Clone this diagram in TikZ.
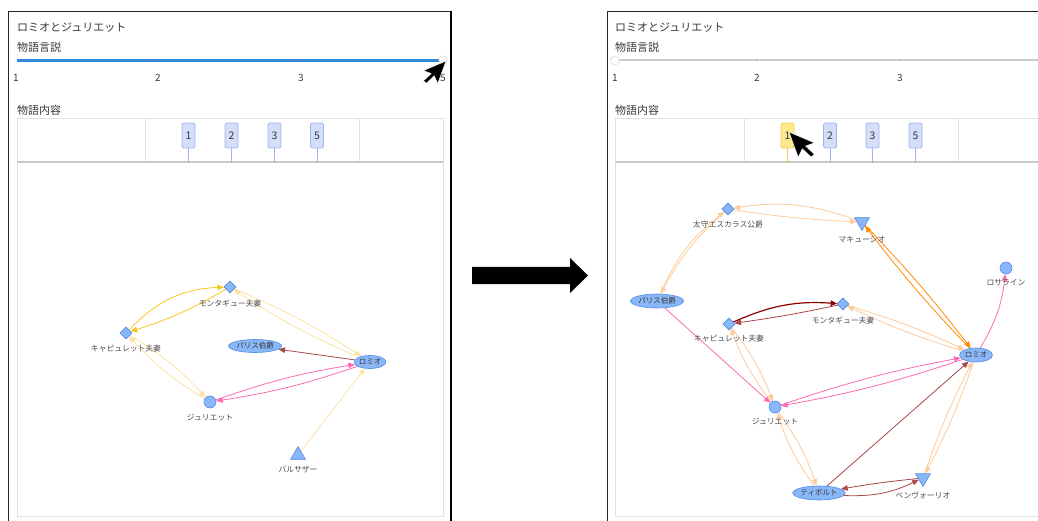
\documentclass[tikz,border=0pt]{standalone}
\usepackage{fontspec}
\setmainfont{Noto Sans CJK JP}
\usetikzlibrary{arrows.meta,shapes.geometric}

\pgfdeclarelayer{bg}
\pgfdeclarelayer{edges}
\pgfsetlayers{bg,edges,main}

\definecolor{txt}{RGB}{55,55,55}
\definecolor{lbltxt}{RGB}{75,75,75}
\definecolor{nodefill}{RGB}{138,183,248}
\definecolor{nodeline}{RGB}{80,140,232}
\definecolor{gridline}{RGB}{224,224,224}
\definecolor{gridbase}{RGB}{200,200,200}
\definecolor{tagfill}{RGB}{212,222,248}
\definecolor{tagline}{RGB}{160,182,240}
\definecolor{tagselfill}{RGB}{253,234,140}
\definecolor{tagselline}{RGB}{240,205,90}
\definecolor{sliderblue}{RGB}{45,138,218}
\definecolor{slidergray}{RGB}{205,205,205}
\definecolor{eyellow}{RGB}{246,200,30}
\definecolor{epaleyellow}{RGB}{253,228,165}
\definecolor{epaleorange}{RGB}{255,203,155}
\definecolor{eorange}{RGB}{255,140,0}
\definecolor{epink}{RGB}{255,105,180}
\definecolor{edarkred}{RGB}{139,0,0}
\definecolor{emidred}{RGB}{168,72,72}

\tikzset{
  title/.style={anchor=west, inner sep=0, text=txt, font=\fontsize{11}{13}\selectfont},
  ticklbl/.style={inner sep=0, text=txt, font=\fontsize{10}{12}\selectfont},
  tagbox/.style={draw=tagline, fill=tagfill, line width=0.8pt, rounded corners=1.5pt,
    minimum width=13pt, minimum height=25pt, inner sep=0, text=txt,
    font=\fontsize{10.5}{12}\selectfont},
  tagsel/.style={tagbox, draw=tagselline, fill=tagselfill},
  stem/.style={draw=tagline, line width=0.8pt},
  stemsel/.style={draw=tagselline, line width=0.8pt},
  shp/.style={draw=nodeline, fill=nodefill, line width=0.6pt, inner sep=0},
  dia/.style={shp, diamond, minimum size=12pt},
  dot/.style={shp, circle, minimum size=12pt},
  triup/.style={shp, regular polygon, regular polygon sides=3, minimum size=17pt},
  tridown/.style={triup, shape border rotate=180},
  ell/.style={shp, ellipse, text=txt, font=\fontsize{7.5}{9}\selectfont},
  lbl/.style={inner sep=0, text=lbltxt, font=\fontsize{7.8}{9}\selectfont},
  lk/.style={line width=0.8pt, -{Triangle[length=6.5pt,width=5.5pt]}},
  frame/.style={draw=gridline, line width=0.8pt},
  pointer/.style={fill=black, draw=white, line width=0.5pt, line join=round}
}

\begin{document}
\begin{tikzpicture}[x=1pt,y=-1pt]
\useasboundingbox (0,0) rectangle (1038,521);
\begin{pgfonlayer}{bg}
\fill[white] (0,0) rectangle (1038,521);
\end{pgfonlayer}

% ---------------- left panel ----------------
\draw[black!85, line width=1pt] (8.5,521) -- (8.5,12) -- (451,12);
\draw[black, line width=2pt] (451,11) -- (451,521);

\node[title] (lt1) at (17,28) {ロミオとジュリエット};
\node[title] (lt2) at (17,47) {物語言説};

% slider
\draw[sliderblue, line width=2.2pt] (17,60.5) -- (441,60.5);
\fill[black!45] (158,60.5) circle (0.9) (301,60.5) circle (0.9);
\node[circle, draw=black!20, fill=white, minimum size=8.5pt, inner sep=0] (lknob) at (443,60) {};
\node[ticklbl] (ls1) at (16,78) {1};
\node[ticklbl] (ls2) at (158,78) {2};
\node[ticklbl] (ls3) at (301,78) {3};
\node[ticklbl] (ls5) at (443,78) {5};

\node[title] (lt3) at (17,110) {物語内容};

% timeline strip
\draw[frame] (17,162) -- (17,118) -- (443,118) -- (443,162);
\draw[frame] (145,118) -- (145,162) (359,118) -- (359,162);
\draw[gridbase, line width=1.2pt] (17,162) -- (443,162);
\draw[frame] (17,162) -- (17,516) -- (443,516) -- (443,162);

\foreach \n/\x in {1/188.5,2/231.5,3/274.5,5/317} {
  \node[tagbox] (ltag\n) at (\x,135.5) {\n};
  \coordinate (lbase\n) at (\x,162);
  \draw[stem] (ltag\n) -- (lbase\n);
  \fill[tagline] (lbase\n) circle (1);
}

% pointer on the slider end
\begin{scope}[shift={(446,61)}, rotate=-20, scale=1.2]
  \draw[pointer] (0,0) -- (0,20) -- (-5,15) -- (-9,23) -- (-12,22) -- (-8,14) -- (-15,14) -- cycle;
\end{scope}

% left graph
\node[dia] (LMon) at (230,287) {};
\node[lbl] (LMonL) at (230,303) {モンタギュー夫妻};
\node[dia] (LCap) at (126,333) {};
\node[lbl] (LCapL) at (126,349) {キャピュレット夫妻};
\node[ell, minimum width=44pt, minimum height=13pt] (LPar) at (255,346) {パリス伯爵};
\node[ell, minimum width=31pt, minimum height=13pt] (LRom) at (370,362) {ロミオ};
\node[dot] (LJul) at (210,402) {};
\node[lbl] (LJulL) at (210,418) {ジュリエット};
\node[triup] (LBal) at (298,455) {};
\node[lbl] (LBalL) at (298,470) {バルサザー};

\begin{pgfonlayer}{edges}
\draw[lk, eyellow] (LCap) to[bend left=22] (LMon);
\draw[lk, eyellow] (LMon) to[bend left=6] (LCap);
\draw[lk, epaleyellow] (LMon) to[bend left=5] (LRom);
\draw[lk, epaleyellow] (LRom) to[bend left=5] (LMon);
\draw[lk, epaleyellow] (LCap) to[bend left=8] (LJul);
\draw[lk, epaleyellow] (LJul) to[bend left=8] (LCap);
\draw[lk, emidred] (LRom) -- (LPar);
\draw[lk, epink] (LRom) to[bend left=5] (LJul);
\draw[lk, epink] (LJul) to[bend left=5] (LRom);
\draw[lk, epaleyellow] (LBal) -- (LRom);
\end{pgfonlayer}

% ---------------- transition arrow ----------------
\fill[black] (472,267) -- (570,267) -- (570,258) -- (588,275.5) -- (570,293) -- (570,284) -- (472,284) -- cycle;

% ---------------- right panel ----------------
\draw[black!85, line width=1pt] (607.5,521) -- (607.5,12) -- (1040,12);

\node[title] (rt1) at (615,28) {ロミオとジュリエット};
\node[title] (rt2) at (615,47) {物語言説};

\draw[slidergray, line width=2pt] (615,60.5) -- (1040,60.5);
\fill[black!35] (757,60.5) circle (0.9) (900,60.5) circle (0.9);
\node[circle, draw=black!20, fill=white, minimum size=9pt, inner sep=0] (rknob) at (615,60.5) {};
\node[ticklbl] (rs1) at (615,78) {1};
\node[ticklbl] (rs2) at (757,78) {2};
\node[ticklbl] (rs3) at (900,78) {3};

\node[title] (rt3) at (615,110) {物語内容};

\draw[frame] (615,162) -- (615,118) -- (1040,118);
\draw[frame] (744,118) -- (744,162) (958,118) -- (958,162);
\draw[gridbase, line width=1.2pt] (615,162) -- (1040,162);
\draw[frame] (615,162) -- (615,516) -- (1040,516);

\node[tagsel] (rtag1) at (787.5,135.5) {1};
\coordinate (rbase1) at (787.5,162);
\draw[stemsel] (rtag1) -- (rbase1);
\fill[tagselline] (rbase1) circle (1);
\foreach \n/\x in {2/830,3/872.5,5/915.5} {
  \node[tagbox] (rtag\n) at (\x,135.5) {\n};
  \coordinate (rbase\n) at (\x,162);
  \draw[stem] (rtag\n) -- (rbase\n);
  \fill[tagline] (rbase\n) circle (1);
}

% pointer on the selected tag
\begin{scope}[shift={(789,132)}, rotate=20, scale=1.35]
  \draw[pointer] (0,0) -- (0,20) -- (5,15) -- (9,23) -- (12,22) -- (8,14) -- (15,14) -- cycle;
\end{scope}

% right graph
\node[dia] (REsc) at (728,209) {};
\node[lbl] (REscL) at (728,225) {太守エスカラス公爵};
\node[tridown] (RMer) at (862,222) {};
\node[lbl] (RMerL) at (862,240) {マキューシオ};
\node[ell, minimum width=48pt, minimum height=14pt] (RPar) at (657,301) {パリス伯爵};
\node[dia] (RMon) at (843,304) {};
\node[lbl] (RMonL) at (843,320) {モンタギュー夫妻};
\node[dia] (RCap) at (729,324) {};
\node[lbl] (RCapL) at (729,339) {キャピュレット夫妻};
\node[dot] (RRos) at (1006,268) {};
\node[lbl] (RRosL) at (1006,283) {ロサライン};
\node[ell, minimum width=33pt, minimum height=14pt] (RRom) at (976,355) {ロミオ};
\node[dot] (RJul) at (775,407) {};
\node[lbl] (RJulL) at (775,422) {ジュリエット};
\node[ell, minimum width=48pt, minimum height=14pt] (RTyb) at (819,493) {ティボルト};
\node[tridown] (RBen) at (923,478) {};
\node[lbl] (RBenL) at (923,495) {ベンヴォーリオ};

\begin{pgfonlayer}{edges}
\draw[lk, epaleorange] (RMer) to[bend right=14] (REsc);
\draw[lk, epaleorange] (REsc) to[bend right=3] (RMer);
\draw[lk, epaleorange] (RPar) to[bend left=14] (REsc);
\draw[lk, epaleorange] (REsc) to[bend right=10] (RPar);
\draw[lk, eorange] (RMer) to[bend left=3] (RRom);
\draw[lk, eorange] (RRom) to[bend left=3] (RMer);
\draw[lk, edarkred, line width=1.2pt] (RCap) to[bend left=14] (RMon);
\draw[lk, emidred] (RMon) to[bend left=2] (RCap);
\draw[lk, epaleorange] (RMon) to[bend left=4] (RRom);
\draw[lk, epaleorange] (RRom) to[bend left=4] (RMon);
\draw[lk, epink] (RRom) to[bend right=12] (RRos);
\draw[lk, epink] (RPar) -- (RJul);
\draw[lk, epaleorange] (RCap) to[bend left=8] (RJul);
\draw[lk, epaleorange] (RJul) to[bend left=8] (RCap);
\draw[lk, epink] (RRom) to[bend left=4] (RJul);
\draw[lk, epink] (RJul) to[bend left=4] (RRom);
\draw[lk, emidred] (RTyb) -- (RRom);
\draw[lk, epaleorange] (RJul) to[bend left=8] (RTyb);
\draw[lk, epaleorange] (RTyb) to[bend left=8] (RJul);
\draw[lk, epaleorange] (RRom) to[bend left=4] (RBen);
\draw[lk, epaleorange] (RBen) to[bend left=4] (RRom);
\draw[lk, emidred] (RBen) to[bend right=2] (RTyb);
\draw[lk, emidred] (RTyb) to[bend right=14] (RBen);
\end{pgfonlayer}
\end{tikzpicture}
\end{document}
